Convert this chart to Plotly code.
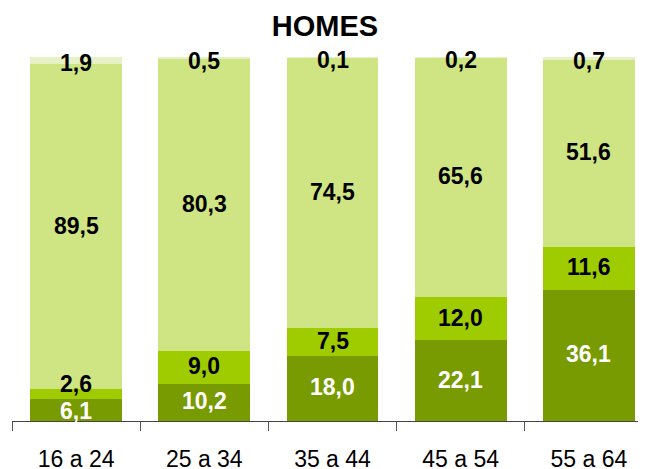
import plotly.graph_objects as go

categories = ["16 a 24", "25 a 34", "35 a 44", "45 a 54", "55 a 64"]
s1 = [6.1, 10.2, 18.0, 22.1, 36.1]
s2 = [2.6, 9.0, 7.5, 12.0, 11.6]
s3 = [89.5, 80.3, 74.5, 65.6, 51.6]
s4 = [1.9, 0.5, 0.1, 0.2, 0.7]

series = [s1, s2, s3, s4]
colors = ["#779B00", "#9FCC00", "#CFE584", "#E6F2C6"]
text_colors = ["white", "black", "black", "black"]

fig = go.Figure()
for vals, col in zip(series, colors):
    fig.add_trace(go.Bar(x=categories, y=vals, marker=dict(color=col, line=dict(width=0)),
                         hoverinfo="skip", showlegend=False))

def fmt(v):
    return f"{v:.1f}".replace(".", ",")

annotations = []
for i, cat in enumerate(categories):
    total = sum(s[i] for s in series)
    cum = 0.0
    for k, vals in enumerate(series):
        v = vals[i]
        mid = (cum + v / 2) / total * 100
        cum += v
        shift = 1
        if k == 3:
            shift = -3
        elif k == 1 and v < 4:
            shift = 10
        elif k == 0 and v < 8:
            shift = -1
        annotations.append(dict(x=cat, y=mid, text=fmt(v), showarrow=False, yshift=shift,
                                font=dict(family="Liberation Sans, Arial", size=23,
                                          color=text_colors[k], weight="bold")))

fig.update_layout(
    barmode="stack",
    barnorm="percent",
    bargap=0.283,
    width=646, height=469,
    margin=dict(l=4, r=1, t=49, b=56, autoexpand=False),
    plot_bgcolor="white", paper_bgcolor="white",
    title=dict(text="<b>HOMES</b>", x=317 / 646, xanchor="center", xref="container",
               y=1 - 18 / 469, yref="container", yanchor="middle",
               font=dict(family="Liberation Sans, Arial", size=29, color="black")),
    annotations=annotations,
    xaxis=dict(type="category", range=[-0.5, 4.5], showline=True, linecolor="#444444",
               linewidth=1, ticks="outside", tickson="boundaries", ticklen=9,
               tickcolor="#555555", showgrid=False, ticklabelstandoff=17, automargin=False,
               tickfont=dict(family="Liberation Sans, Arial", size=23, color="black")),
    yaxis=dict(range=[0, 100], visible=False, showgrid=False, automargin=False),
)

fig.write_html("out.html")
